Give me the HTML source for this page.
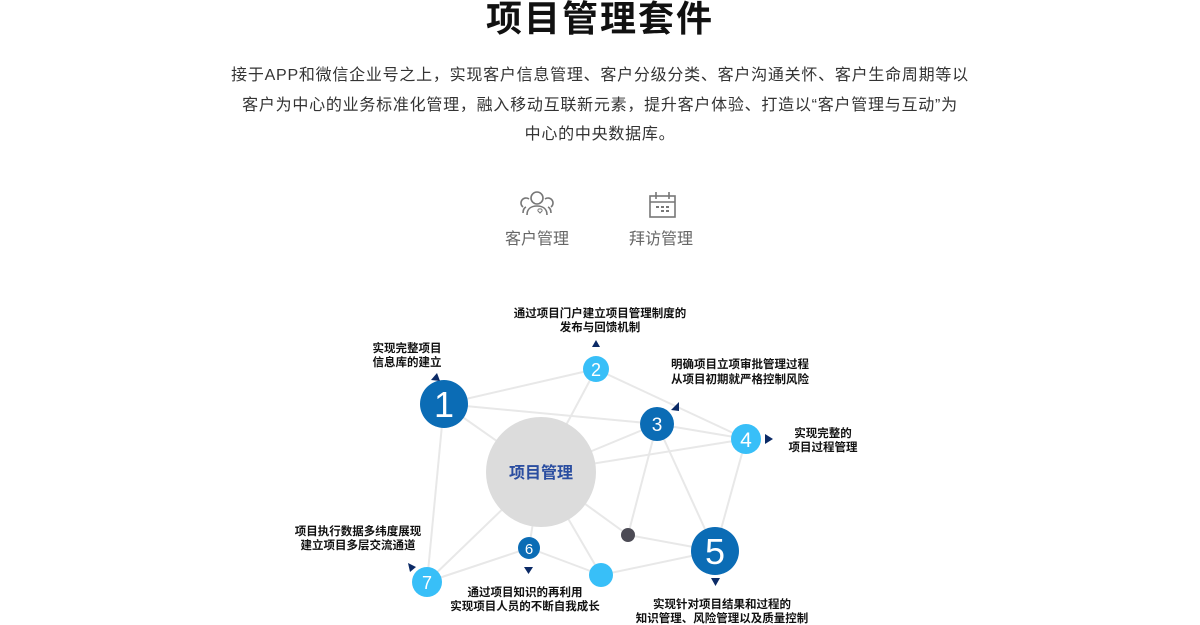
<!DOCTYPE html>
<html><head><meta charset="utf-8"><style>
body{margin:0;width:1200px;height:625px;background:#fff;overflow:hidden;font-family:"Liberation Sans","Noto Sans CJK SC",sans-serif;position:relative}
h1{position:absolute;left:0;width:1200px;text-align:center;margin:0;top:-10px;font-size:36px;font-weight:bold;color:#111;letter-spacing:2px}
.p{position:absolute;left:0;width:1200px;text-align:center;font-size:16px;line-height:29.5px;color:#333;top:61px;white-space:nowrap;letter-spacing:0.75px}
.lab{position:absolute;font-size:16px;color:#666}
</style></head><body>
<h1>项目管理套件</h1>
<div class="p">接于APP和微信企业号之上，实现客户信息管理、客户分级分类、客户沟通关怀、客户生命周期等以<br>客户为中心的业务标准化管理，融入移动互联新元素，提升客户体验、打造以“客户管理与互动”为<br>中心的中央数据库。</div>
<div class="lab" style="left:505px;top:225px">客户管理</div>
<div class="lab" style="left:629px;top:225px">拜访管理</div>
<svg width="1200" height="625" style="position:absolute;left:0;top:0" font-family="Liberation Sans,Noto Sans CJK SC,sans-serif">
<g fill="none" stroke="#777" stroke-width="1.6">
<circle cx="537" cy="198" r="6"/><path d="M527 215c0-6 4-9 10-9s10 3 10 9"/><path d="M529 199a5 5 0 0 0-6 8M523 213c0-3 1-5 3-6"/><path d="M545 199a5 5 0 0 1 6 8M551 213c0-3-1-5-3-6"/>
<path d="M540 213l-2-2a1.5 1.5 0 0 1 2-2a1.5 1.5 0 0 1 2 2z" stroke-width="1"/>
<rect x="650" y="196" width="25" height="21"/><line x1="650" y1="202" x2="675" y2="202"/><line x1="656" y1="192" x2="656" y2="199"/><line x1="669" y1="192" x2="669" y2="199"/>
</g>
<g fill="#777"><rect x="656" y="206" width="3" height="2"/><rect x="661" y="206" width="3" height="2"/><rect x="666" y="206" width="3" height="2"/><rect x="666" y="210" width="3" height="2"/><rect x="661" y="210" width="3" height="2"/></g>
<g stroke="#e8e8e8" stroke-width="2">
<line x1="444" y1="404" x2="596" y2="369"/><line x1="444" y1="404" x2="657" y2="424"/><line x1="444" y1="404" x2="541" y2="472"/><line x1="444" y1="404" x2="427" y2="582"/>
<line x1="596" y1="369" x2="541" y2="472"/><line x1="596" y1="369" x2="746" y2="439"/><line x1="657" y1="424" x2="746" y2="439"/><line x1="657" y1="424" x2="541" y2="472"/>
<line x1="657" y1="424" x2="628" y2="535"/><line x1="657" y1="424" x2="715" y2="551"/><line x1="541" y1="472" x2="746" y2="439"/><line x1="746" y1="439" x2="715" y2="551"/>
<line x1="541" y1="472" x2="628" y2="535"/><line x1="628" y1="535" x2="715" y2="551"/><line x1="541" y1="472" x2="427" y2="582"/><line x1="427" y1="582" x2="529" y2="548"/>
<line x1="529" y1="548" x2="601" y2="575"/><line x1="541" y1="472" x2="601" y2="575"/><line x1="601" y1="575" x2="715" y2="551"/><line x1="541" y1="472" x2="529" y2="548"/>
</g>
<circle cx="541" cy="472" r="55" fill="#dcdcdc"/>
<text x="541" y="478" text-anchor="middle" font-size="16" font-weight="bold" fill="#2a4da0">项目管理</text>
<g text-anchor="middle" fill="#fff">
<circle cx="444" cy="404" r="24" fill="#0b6cb5"/><text x="444" y="417" font-size="36">1</text>
<circle cx="596" cy="369" r="13" fill="#38bff8"/><text x="596" y="376" font-size="18">2</text>
<circle cx="657" cy="424" r="17" fill="#0b6cb5"/><text x="657" y="431" font-size="19">3</text>
<circle cx="746" cy="439" r="15" fill="#38bff8"/><text x="746" y="447" font-size="21">4</text>
<circle cx="715" cy="551" r="24" fill="#0b6cb5"/><text x="715" y="564" font-size="36">5</text>
<circle cx="529" cy="548" r="11" fill="#0b6cb5"/><text x="529" y="554" font-size="15">6</text>
<circle cx="427" cy="582" r="15" fill="#38bff8"/><text x="427" y="589" font-size="18">7</text>
<circle cx="601" cy="575" r="12" fill="#38bff8"/>
<circle cx="628" cy="535" r="7" fill="#4c4b55"/>
</g>
<g fill="#0b2a66">
<path d="M592 347l4-7 4 7z"/><path d="M431 380l6-7 3 8z"/><path d="M671 410l8-8 0 9z"/><path d="M765 434l8 5-8 5z"/>
<path d="M711 578h9l-4.5 8z"/><path d="M524 567h9l-4.5 7z"/><path d="M408 563l8 4-6 5z"/>
</g>
<g font-size="11.5" fill="#111" text-anchor="middle" font-weight="bold">
<text x="600" y="317">通过项目门户建立项目管理制度的</text><text x="600" y="331">发布与回馈机制</text>
<text x="407" y="352">实现完整项目</text><text x="407" y="366">信息库的建立</text>
<text x="740" y="368">明确项目立项审批管理过程</text><text x="740" y="383">从项目初期就严格控制风险</text>
<text x="823" y="437">实现完整的</text><text x="823" y="451">项目过程管理</text>
<text x="358" y="535">项目执行数据多纬度展现</text><text x="358" y="549">建立项目多层交流通道</text>
<text x="525" y="596">通过项目知识的再利用</text><text x="525" y="610">实现项目人员的不断自我成长</text>
<text x="722" y="608">实现针对项目结果和过程的</text><text x="722" y="622">知识管理、风险管理以及质量控制</text>
</g>
</svg>
</body></html>
